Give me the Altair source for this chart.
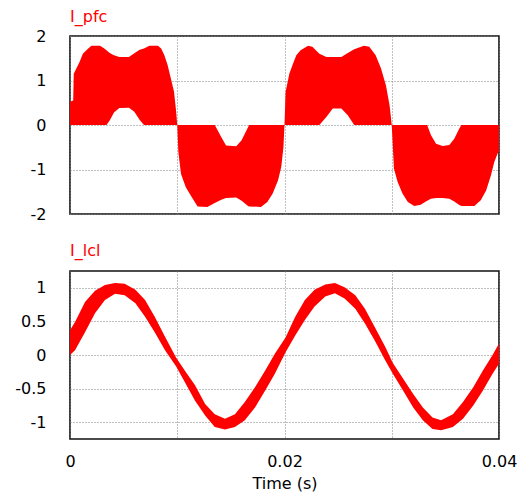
import altair as alt
import pandas as pd

# ---- I_pfc : envelope of the switched current (upper / lower edge) ----
T_PFC = [0.0, 0.0003, 0.00035, 0.0009, 0.0012, 0.0017, 0.0020, 0.0028, 0.0032, 0.0034,
         0.0037, 0.0041, 0.0046, 0.0055, 0.0060, 0.0065, 0.0069, 0.0074, 0.0082, 0.0085,
         0.0088, 0.0091, 0.0094, 0.0097, 0.0099, 0.0100,
         0.0101, 0.01035, 0.0108, 0.0113, 0.0119, 0.0128, 0.0135, 0.0141, 0.01455, 0.0155,
         0.0160, 0.0166, 0.0167, 0.0178, 0.0184, 0.0189, 0.0194, 0.0197, 0.0199, 0.0200,
         0.02005, 0.0201, 0.02045, 0.0208, 0.0211, 0.0215, 0.0222, 0.0226, 0.02325, 0.0239,
         0.0245, 0.0253, 0.0259, 0.0265, 0.0274, 0.0279, 0.0285, 0.0290, 0.02946, 0.0298, 0.0300,
         0.0302, 0.03055, 0.0310, 0.0315, 0.0321, 0.0327, 0.0333, 0.03366, 0.03413, 0.03475,
         0.03537, 0.03583, 0.0363, 0.0365, 0.0377, 0.0383, 0.0388, 0.03925, 0.03956, 0.03987, 0.0400]
PFC_HI = [0.52, 0.55, 1.15, 1.42, 1.60, 1.72, 1.78, 1.78, 1.72, 1.68,
          1.62, 1.57, 1.53, 1.53, 1.61, 1.69, 1.72, 1.78, 1.78, 1.72,
          1.57, 1.35, 1.05, 0.75, 0.30, 0.0,
          0.0, 0.0, 0.0, 0.0, 0.0, 0.0, 0.0, -0.27, -0.46, -0.48,
          -0.34, -0.05, 0.0, 0.0, 0.0, 0.0, 0.0, 0.0, 0.0, 0.0,
          0.37, 0.74, 1.15, 1.38, 1.57, 1.68, 1.78, 1.76, 1.60, 1.53,
          1.53, 1.53, 1.62, 1.70, 1.78, 1.76, 1.57, 1.27, 0.89, 0.44, 0.0,
          0.0, 0.0, 0.0, 0.0, 0.0, 0.0, 0.0, -0.23, -0.42, -0.47,
          -0.45, -0.31, -0.08, 0.0, 0.0, 0.0, 0.0, 0.0, 0.0, 0.0, 0.0]
PFC_LO = [0.0, 0.0, 0.0, 0.0, 0.0, 0.0, 0.0, 0.0, 0.0, 0.0,
          0.10, 0.28, 0.38, 0.39, 0.30, 0.11, 0.0, 0.0, 0.0, 0.0,
          0.0, 0.0, 0.0, 0.0, 0.0, 0.0,
          -0.60, -1.10, -1.40, -1.60, -1.83, -1.84, -1.75, -1.68, -1.64, -1.63,
          -1.70, -1.82, -1.83, -1.84, -1.73, -1.54, -1.24, -0.94, -0.50, 0.0,
          0.0, 0.0, 0.0, 0.0, 0.0, 0.0, 0.0, 0.0, 0.0, 0.18,
          0.37, 0.37, 0.22, 0.0, 0.0, 0.0, 0.0, 0.0, 0.0, 0.0, 0.0,
          -0.98, -1.28, -1.54, -1.73, -1.82, -1.79, -1.70, -1.66, -1.64, -1.64,
          -1.66, -1.72, -1.80, -1.82, -1.82, -1.69, -1.47, -1.13, -0.83, -0.64, -0.60]

# ---- I_lcl : ripple band of the grid current ----
T_LCL = [0.0, 0.00047, 0.0014, 0.00233, 0.00326, 0.0042, 0.0051, 0.0061, 0.0070, 0.0079,
         0.00886, 0.0099, 0.0107, 0.01166, 0.0126, 0.0135, 0.01445, 0.01538, 0.0163, 0.01725,
         0.0182, 0.0191, 0.0201, 0.0210, 0.0219, 0.0228, 0.0238, 0.0247, 0.0256, 0.0266,
         0.0275, 0.0284, 0.0294, 0.0301, 0.03105, 0.0320, 0.0329, 0.0338, 0.0346, 0.0357,
         0.03664, 0.0376, 0.0385, 0.0394, 0.0400]
LCL_HI = [0.37, 0.49, 0.79, 0.955, 1.04, 1.07, 1.06, 0.97, 0.82, 0.57,
          0.27, -0.04, -0.23, -0.45, -0.73, -0.88, -0.95, -0.88, -0.70, -0.48,
          -0.23, 0.02, 0.26, 0.57, 0.82, 0.97, 1.05, 1.07, 1.01, 0.89,
          0.69, 0.42, 0.12, -0.12, -0.35, -0.58, -0.78, -0.93, -0.97, -0.88,
          -0.70, -0.48, -0.23, 0.0, 0.17]
LCL_LO = [0.0, 0.07, 0.34, 0.62, 0.82, 0.91, 0.89, 0.77, 0.57, 0.34,
          0.07, -0.17, -0.40, -0.68, -0.90, -1.07, -1.11, -1.07, -0.97, -0.78,
          -0.53, -0.28, 0.04, 0.29, 0.52, 0.72, 0.87, 0.92, 0.84, 0.69,
          0.47, 0.22, -0.08, -0.28, -0.53, -0.78, -0.97, -1.10, -1.12, -1.07,
          -0.95, -0.75, -0.53, -0.28, -0.13]

X_TICKS = [0, 0.01, 0.02, 0.03, 0.04]
PFC_TICKS = [-2, -1, 0, 1, 2]
LCL_TICKS = [-1, -0.5, 0, 0.5, 1]

FONT = "DejaVu Sans"
RED = "#ff0000"
LABEL = "replace(format(datum.value, '~g'), '\u2212', '-')"

pfc_df = pd.DataFrame({"t": T_PFC, "hi": PFC_HI, "lo": PFC_LO})
lcl_df = pd.DataFrame({"t": T_LCL, "hi": LCL_HI, "lo": LCL_LO})

xscale = alt.Scale(domain=[0, 0.04], nice=False, zero=False)


def title(txt, off):
    return alt.TitleParams(txt, anchor="start", color=RED, fontSize=16, font=FONT,
                           fontWeight="normal", offset=off, frame="group")


top = alt.Chart(pfc_df).mark_area(color=RED, interpolate="linear").encode(
    x=alt.X("t:Q", scale=xscale,
            axis=alt.Axis(values=X_TICKS, labels=False, title=None, grid=True)),
    y=alt.Y("hi:Q", scale=alt.Scale(domain=[-2, 2], nice=False),
            axis=alt.Axis(values=PFC_TICKS, title=None, labelExpr=LABEL, minExtent=56)),
    y2="lo:Q",
).properties(width=429, height=178, title=title("I_pfc", 3))

bottom = alt.Chart(lcl_df).mark_area(color=RED, interpolate="linear").encode(
    x=alt.X("t:Q", scale=xscale,
            axis=alt.Axis(values=X_TICKS, title="Time (s)", grid=True, labelFlush=False,
                          labelExpr="round(datum.value*100) % 2 == 0 ? " + LABEL + " : ''",
                          labelPadding=14, titlePadding=6)),
    y=alt.Y("hi:Q", scale=alt.Scale(domain=[-1.25, 1.25], nice=False),
            axis=alt.Axis(values=LCL_TICKS, title=None, labelExpr=LABEL, minExtent=56)),
    y2="lo:Q",
).properties(width=429, height=168, title=title("I_lcl", 12))

chart = alt.vconcat(top, bottom, spacing=19).properties(
    padding={"left": 5, "top": 0, "right": 0, "bottom": 0}
).configure_view(
    stroke="#111", strokeWidth=1.6
).configure_axis(
    domain=False, ticks=False, tickSize=0, labelPadding=24,
    labelFont=FONT, labelFontSize=16, labelColor="#000",
    titleFont=FONT, titleFontSize=16, titleFontWeight="normal", titleColor="#000",
    gridColor="#808080", gridDash=[1, 2], gridWidth=1, gridOpacity=1,
)

chart.save("out.html", embed_options={"renderer": "svg", "actions": False})
